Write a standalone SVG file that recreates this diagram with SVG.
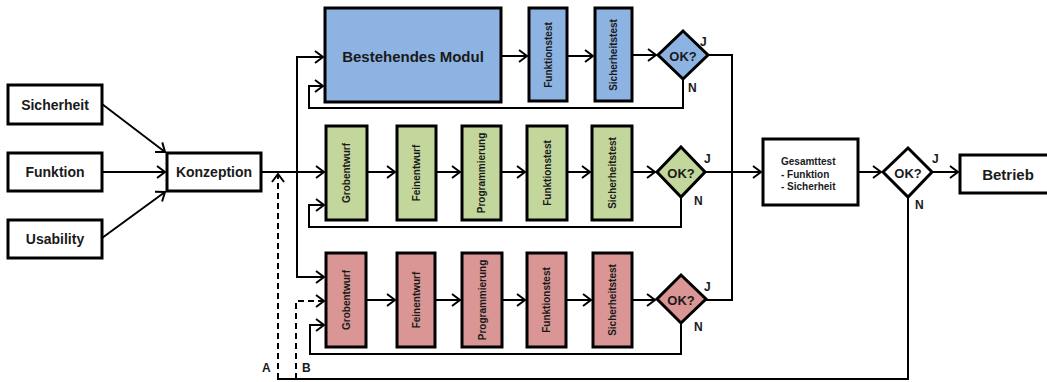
<svg xmlns="http://www.w3.org/2000/svg" width="1047" height="382" viewBox="0 0 1047 382">
  <style>
    .box { stroke: #000; stroke-width: 3; }
    .plain { fill: #fff; }
    .blue { fill: #8DB3E2; }
    .green { fill: #C3D69B; }
    .red { fill: #D99694; }
    .lbl { font-family: "Liberation Sans", Arial, sans-serif; font-weight: bold; fill: #1a1a1a; text-anchor: middle; dominant-baseline: central; }
    .big { font-size: 14px; }
    .vert { font-size: 10px; }
    .ok { font-size: 13px; }
    .yn { font-size: 12px; text-anchor: start; }
    .small { font-size: 10px; text-anchor: start; }
    .wire { fill: none; stroke: #000; stroke-width: 2; }
    .dash { stroke-dasharray: 6 4; }
    .arr { marker-end: url(#chev); }
  </style>
  <defs>
    <marker id="chev" viewBox="0 0 10 14" refX="9" refY="7" markerWidth="10" markerHeight="14" markerUnits="userSpaceOnUse" orient="auto">
      <path d="M1,1 L9,7 L1,13" fill="none" stroke="#000" stroke-width="2"/>
    </marker>
  </defs>

  <rect width="1047" height="382" fill="#fff"/>

  <!-- connectors -->
  <g id="connectors">
    <!-- requirements into concept -->
    <path class="wire arr" d="M102,104 L165,152"/>
    <path class="wire arr" d="M102,172 H165"/>
    <path class="wire arr" d="M102,238 L165,192"/>
    <!-- concept distribution -->
    <path class="wire arr" d="M261,172 H324"/>
    <path class="wire arr" d="M297,172 V57 H323"/>
    <path class="wire arr" d="M297,172 V277 H324"/>

    <!-- row 1 -->
    <path class="wire arr" d="M501,56 H527"/>
    <path class="wire arr" d="M567,56 H593"/>
    <path class="wire arr" d="M632,55 H656"/>
    <path class="wire arr" d="M683,79 V108 H309 V86 H323"/>

    <!-- row 2 -->
    <path class="wire arr" d="M367,172 H395"/>
    <path class="wire arr" d="M436,172 H460"/>
    <path class="wire arr" d="M501,172 H525"/>
    <path class="wire arr" d="M567,172 H590"/>
    <path class="wire arr" d="M632,172 H655"/>
    <path class="wire arr" d="M681,197 V227 H309 V205 H324"/>

    <!-- row 3 -->
    <path class="wire arr" d="M366,300 H395"/>
    <path class="wire arr" d="M435,300 H460"/>
    <path class="wire arr" d="M502,300 H525"/>
    <path class="wire arr" d="M566,300 H591"/>
    <path class="wire arr" d="M632,300 H655"/>
    <path class="wire arr" d="M681,323 V354 H310 V325 H324"/>

    <!-- J exits collected to overall test -->
    <path class="wire" d="M708,55 H732 V300 H706"/>
    <path class="wire arr" d="M705,172 H761"/>

    <!-- overall test to decision and operation -->
    <path class="wire arr" d="M858,172 H881"/>
    <path class="wire arr" d="M933,172 H958"/>

    <!-- N return path -->
    <path class="wire" d="M908,197 V379 H277"/>
    <path class="wire dash arr" d="M278,379 V174"/>
    <path class="wire dash arr" d="M296,379 V301 H324"/>
  </g>

  <!-- inputs -->
  <g id="sicherheit">
    <rect class="box plain" x="8" y="85" width="94" height="39"/>
    <text class="lbl big" x="55" y="105">Sicherheit</text>
  </g>
  <g id="funktion">
    <rect class="box plain" x="8" y="153" width="94" height="38"/>
    <text class="lbl big" x="55" y="172">Funktion</text>
  </g>
  <g id="usability">
    <rect class="box plain" x="8" y="220" width="94" height="38"/>
    <text class="lbl big" x="55" y="239">Usability</text>
  </g>
  <g id="konzeption">
    <rect class="box plain" x="167" y="153" width="94" height="38"/>
    <text class="lbl big" x="214" y="172">Konzeption</text>
  </g>

  <!-- row 1: existing module -->
  <g id="b-modul">
    <rect class="box blue" x="325" y="8" width="176" height="94"/>
    <text class="lbl" style="font-size:15px" x="413" y="56">Bestehendes Modul</text>
  </g>
  <g id="b-funktionstest">
    <rect class="box blue" x="529" y="8" width="38" height="93"/>
    <text class="lbl vert" transform="translate(548,55) rotate(-90)">Funktionstest</text>
  </g>
  <g id="b-sicherheitstest">
    <rect class="box blue" x="595" y="8" width="37" height="93"/>
    <text class="lbl vert" transform="translate(613.5,55) rotate(-90)">Sicherheitstest</text>
  </g>
  <g id="b-ok">
    <polygon class="box blue" points="683,31 708,55 683,79 658,55"/>
    <text class="lbl ok" x="683" y="56">OK?</text>
    <text class="lbl yn" x="700" y="42">J</text>
    <text class="lbl yn" x="688" y="88">N</text>
  </g>

  <!-- row 2: new development -->
  <g id="g-grobentwurf">
    <rect class="box green" x="326" y="126" width="41" height="94"/>
    <text class="lbl vert" transform="translate(346.5,173) rotate(-90)">Grobentwurf</text>
  </g>
  <g id="g-feinentwurf">
    <rect class="box green" x="397" y="126" width="39" height="94"/>
    <text class="lbl vert" transform="translate(416.5,173) rotate(-90)">Feinentwurf</text>
  </g>
  <g id="g-programmierung">
    <rect class="box green" x="462" y="126" width="39" height="94"/>
    <text class="lbl vert" transform="translate(481.5,173) rotate(-90)">Programmierung</text>
  </g>
  <g id="g-funktionstest">
    <rect class="box green" x="527" y="126" width="40" height="94"/>
    <text class="lbl vert" transform="translate(547,173) rotate(-90)">Funktionstest</text>
  </g>
  <g id="g-sicherheitstest">
    <rect class="box green" x="592" y="126" width="40" height="94"/>
    <text class="lbl vert" transform="translate(612,173) rotate(-90)">Sicherheitstest</text>
  </g>
  <g id="g-ok">
    <polygon class="box green" points="681,147 705,172 681,197 657,172"/>
    <text class="lbl ok" x="681" y="173">OK?</text>
    <text class="lbl yn" x="704" y="159">J</text>
    <text class="lbl yn" x="694" y="201">N</text>
  </g>

  <!-- row 3: new development -->
  <g id="r-grobentwurf">
    <rect class="box red" x="326" y="253" width="40" height="94"/>
    <text class="lbl vert" transform="translate(346,300) rotate(-90)">Grobentwurf</text>
  </g>
  <g id="r-feinentwurf">
    <rect class="box red" x="397" y="253" width="38" height="94"/>
    <text class="lbl vert" transform="translate(416,300) rotate(-90)">Feinentwurf</text>
  </g>
  <g id="r-programmierung">
    <rect class="box red" x="462" y="253" width="40" height="94"/>
    <text class="lbl vert" transform="translate(482,300) rotate(-90)">Programmierung</text>
  </g>
  <g id="r-funktionstest">
    <rect class="box red" x="527" y="253" width="39" height="94"/>
    <text class="lbl vert" transform="translate(546.5,300) rotate(-90)">Funktionstest</text>
  </g>
  <g id="r-sicherheitstest">
    <rect class="box red" x="593" y="253" width="39" height="94"/>
    <text class="lbl vert" transform="translate(612.5,300) rotate(-90)">Sicherheitstest</text>
  </g>
  <g id="r-ok">
    <polygon class="box red" points="681,275 706,299 681,323 657,299"/>
    <text class="lbl ok" x="681" y="300">OK?</text>
    <text class="lbl yn" x="704" y="287">J</text>
    <text class="lbl yn" x="694" y="327">N</text>
  </g>

  <!-- overall test and operation -->
  <g id="gesamttest">
    <rect class="box plain" x="763" y="139" width="95" height="66"/>
    <text class="lbl small" x="781" y="161">Gesamttest</text>
    <text class="lbl small" x="781" y="174">- Funktion</text>
    <text class="lbl small" x="781" y="186">- Sicherheit</text>
  </g>
  <g id="final-ok">
    <polygon class="box plain" points="908,148 932,172 908,197 883,172"/>
    <text class="lbl ok" x="908" y="173">OK?</text>
    <text class="lbl yn" x="932" y="159">J</text>
    <text class="lbl yn" x="915" y="205">N</text>
  </g>
  <g id="betrieb">
    <rect class="box plain" x="960" y="155" width="92" height="38"/>
    <text class="lbl" style="font-size:15px" x="1008" y="174">Betrieb</text>
  </g>

  <!-- return path labels -->
  <g id="path-labels">
    <text class="lbl yn" x="262" y="368">A</text>
    <text class="lbl yn" x="302" y="368">B</text>
  </g>
</svg>
